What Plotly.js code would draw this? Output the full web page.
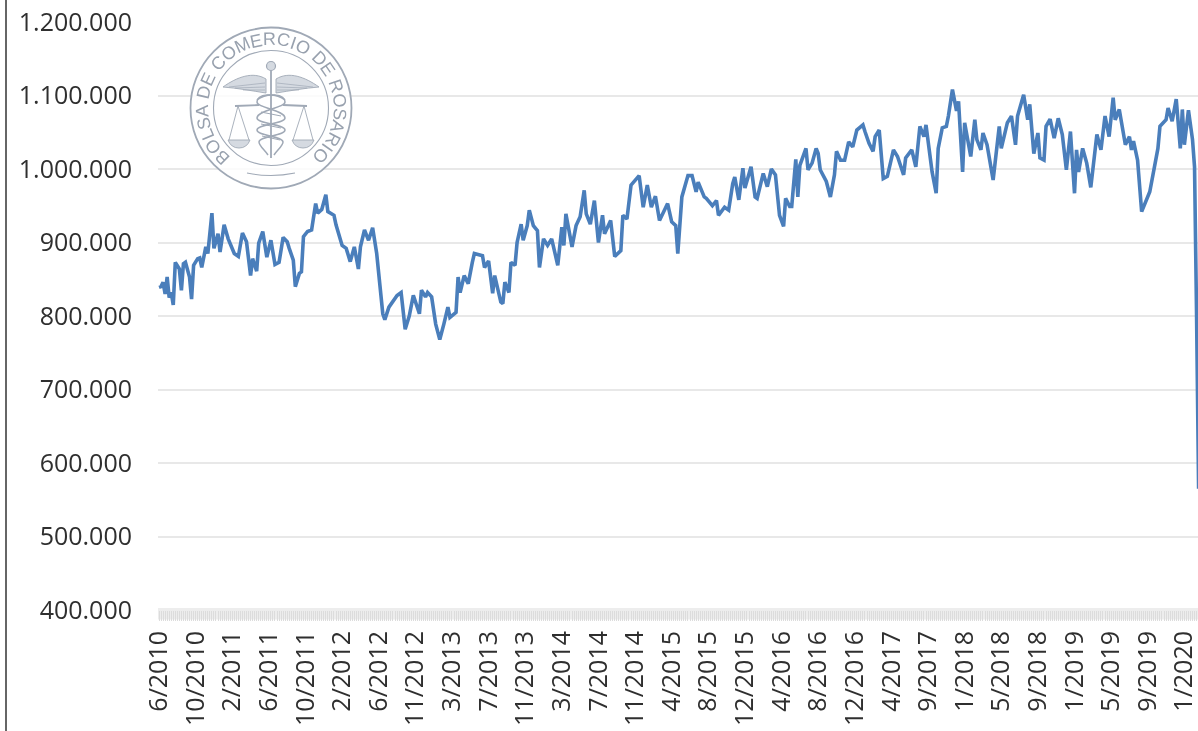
<!DOCTYPE html>
<html>
<head>
<meta charset="utf-8">
<script src="https://cdn.plot.ly/plotly-3.0.1.min.js"></script>
<style>
html,body{margin:0;padding:0;background:#fff;overflow:hidden}
#chart{width:1198px;height:731px;filter:blur(0.5px)}
</style>
</head>
<body>
<div id="chart"></div>
<script>
// Week number since June 2010
const weeks = [
0,1,2,3,4,5,6,7,8,10,11,12,13,15,16,17,19,20,21,23,24,26,27,29,30,32,34,37,39,41,43,45,46,48,49,51,53,55,57,59,61,63,64,66,67,69,70,71,73,75,77,78,80,82,83,86,87,90,92,94,96,98,99,101,103,105,107,110,111,113,117,119,121,123,125,128,129,131,132,134,136,138,140,142,
143,146,147,148,150,152,154,155,159,160,162,164,165,168,169,170,172,173,175,176,178,179,181,182,184,186,187,189,191,193,196,198,199,200,203,205,207,209,210,212,214,216,218,219,222,224,227,228,230,232,236,238,240,242,244,246,250,252,254,255,257,260,262,264,265,268,269,272,274,275,278,280,282,283,
285,287,288,291,293,294,297,299,301,303,305,307,308,310,311,313,314,315,318,319,321,323,324,325,328,330,332,333,335,337,339,341,343,346,347,349,351,352,354,356,358,361,363,366,367,370,372,374,376,377,380,382,
383,385,387,388,390,392,393,395,396,398,399,401,402,404,405,407,410,413,414,417,419,421,422,425,427,428,430,432,433,435,436,438,440,442,444,446,448,450,451,452,454,456,458,461,463,465,467,469,470,472,474,475,477,478,479,481,483,487,491,492,495,496,498,500,502,503,504,506,508,509,510,511
];
// Index level, in thousands
const values = [
839,840,846,830,853,825,832,815,873,864,835,871,873,853,823,869,878,879,866,894,885,940,892,912,887,924,905,885,881,913,901,855,878,861,899,915,880,903,870,873,907,901,892,876,840,858,860,908,915,917,953,940,945,965,942,937,924,896,892,874,894,864,894,917,903,920,885,803,795,812,828,832,782,800,828,803,835,826,832,826,789,768,789,812,
798,805,853,832,855,844,873,885,882,866,875,831,855,819,817,846,832,873,869,900,925,903,923,944,923,916,866,905,896,905,869,921,896,939,894,923,935,971,939,925,957,900,937,912,930,881,889,937,932,978,991,948,978,948,963,930,953,928,923,885,962,991,991,969,982,962,960,950,957,937,948,944,980,989,
958,1001,974,1003,962,960,994,976,1000,992,937,922,960,949,949,1013,962,1005,1028,999,1008,1028,1021,999,983,962,992,1024,1012,1012,1037,1030,1053,1060,1051,1035,1024,1044,1053,987,990,1026,1017,992,1015,1026,1003,1058,1044,1060,996,967,
1028,1056,1058,1072,1108,1079,1092,996,1063,1035,1017,1067,1040,1026,1049,1033,985,1058,1028,1063,1072,1033,1072,1101,1067,1088,1021,1049,1015,1012,1058,1068,1042,1069,1047,999,1051,967,1026,996,1028,1008,975,1047,1026,1072,1044,1097,1067,1081,1044,1033,1044,1026,1038,1012,942,969,1028,1058,1067,1083,1065,1095,1028,1081,1033,1080,1040,1003,800,565
];
const xTickLabels = ["6/2010","10/2010","2/2011","6/2011","10/2011","2/2012","6/2012","11/2012","3/2013","7/2013","11/2013","3/2014","7/2014","11/2014","4/2015","8/2015","12/2015","4/2016","8/2016","12/2016","4/2017","9/2017","1/2018","5/2018","9/2018","1/2019","5/2019","9/2019","1/2020"];
const weeksPerLabel = 18;
const yTickVals = [400,500,600,700,800,900,1000,1100,1200];
const yTickText = ["400.000","500.000","600.000","700.000","800.000","900.000","1.000.000","1.100.000","1.200.000"];
const logoText = "BOLSA DE COMERCIO DE ROSARIO";

// Page geometry of the plot area
const W = 1198, H = 731, L = 158, T = 22, B = 121;
const pw = W - L, ph = H - T - B;
const px = v => (v - L) / pw;
const py = v => 1 - (v - T) / ph;

// Seal
const cx = 271, cy = 108;
const logoColor = "#a0a9b6";
const anchored = {xref:"paper", yref:"paper", xsizemode:"pixel", ysizemode:"pixel", xanchor:px(cx), yanchor:py(cy)};
const disc = (x, y, r, w, fill) => Object.assign({}, anchored, {type:"circle", x0:x-r, x1:x+r, y0:y-r, y1:y+r,
  line:{color:logoColor, width:w}, fillcolor:fill || "rgba(0,0,0,0)", layer:"above"});
const stroke = (path, w, fill) => Object.assign({}, anchored, {type:"path", path:path,
  line:{color:logoColor, width:w}, fillcolor:fill || "rgba(0,0,0,0)", layer:"above"});
const wingFill = "#d5dae1";
const seal = [
  disc(0, 0, 80.5, 1.8, "rgba(255,255,255,0.82)"),
  disc(0, 0, 57.5, 1.1),
  stroke("M-24,-65 Q0,-70 24,-65", 1.1),
  // wings
  stroke("M-5,29 C-18,37 -34,31 -48,21 C-34,20 -18,17 -5,15 Z", 0.9, wingFill),
  stroke("M5,29 C18,37 34,31 48,21 C34,20 18,17 5,15 Z", 0.9, wingFill),
  stroke("M-42,21 L-6,25 M-36,20 L-6,21 M-28,18 L-6,18 M42,21 L6,25 M36,20 L6,21 M28,18 L6,18", 0.7),
  // staff and ball
  stroke("M0,38 L0,-50", 1.8),
  disc(0, 42, 4.5, 1.2, wingFill),
  // serpents
  stroke("M-14,8 C-4,16 14,14 14,6 C14,0 -14,-2 -14,-10 C-14,-16 14,-16 14,-22 C14,-28 -12,-28 -12,-34 C-12,-38 -6,-42 -3,-47", 1.5),
  stroke("M14,8 C4,16 -14,14 -14,6 C-14,0 14,-2 14,-10 C14,-16 -14,-16 -14,-22 C-14,-28 12,-28 12,-34 C12,-38 6,-42 3,-47", 1.5),
  stroke("M-10,-4 L10,-8 M-10,-16 L10,-20 M-9,-28 L9,-32", 1),
  // scales
  stroke("M-36,2 L-12,3 M12,3 L36,2", 1.8),
  stroke("M-33,2 L-42,-32 M-33,2 L-22,-32 M33,2 L22,-32 M33,2 L42,-32", 0.9),
  stroke("M-43,-32 L-21,-32 Q-24,-40 -32,-40 Q-40,-40 -43,-32 Z", 0.9, wingFill),
  stroke("M43,-32 L21,-32 Q24,-40 32,-40 Q40,-40 43,-32 Z", 0.9, wingFill)
];

// Seal lettering, one real letter per annotation, set clockwise round the ring
const logoFont = 18;
const ctx = document.createElement("canvas").getContext("2d");
ctx.font = logoFont + "px 'Liberation Sans'";
const adv = logoText.split("").map(c => ctx.measureText(c).width);
const total = adv.reduce((a, b) => a + b, 0);
const startDeg = -141, spanDeg = 281, textR = 69;
let run = 0;
const sealLetters = logoText.split("").map((c, i) => {
  const ang = startDeg + spanDeg * (run + adv[i] / 2) / total;
  run += adv[i];
  const rad = ang * Math.PI / 180;
  return {xref:"paper", yref:"paper", showarrow:false, text:c, textangle:ang,
    x:px(cx + textR * Math.sin(rad)), y:py(cy - textR * Math.cos(rad)),
    xanchor:"center", yanchor:"middle",
    font:{family:"Liberation Sans", size:logoFont, color:"#98a1ae"}};
});

const leftBorder = {type:"line", xref:"paper", yref:"paper", x0:px(6), x1:px(6), y0:py(H), y1:py(0),
  line:{color:"#666666", width:2}, layer:"above"};
// Pale strip that sits behind the dense tick marks
const tickStrip = {type:"rect", xref:"paper", yref:"paper", x0:0, x1:1, y0:py(619.5), y1:py(608),
  line:{width:0}, fillcolor:"#ededed", layer:"below"};

const trace = {x:weeks, y:values, type:"scatter", mode:"lines",
  line:{color:"#4a7ebb", width:3.6, shape:"linear"}, hoverinfo:"skip", cliponaxis:true};

const layout = {
  width:W, height:H, autosize:false, showlegend:false,
  paper_bgcolor:"#ffffff", plot_bgcolor:"#ffffff",
  margin:{l:L, r:0, t:T, b:B, pad:0},
  xaxis:{
    type:"linear", range:[-0.5, 510.7], showgrid:false, zeroline:false, showline:false,
    tickmode:"array",
    tickvals:xTickLabels.map((_, i) => i * weeksPerLabel),
    ticktext:xTickLabels,
    ticklabeloverflow:"allow",
    tickangle:-90, ticks:"outside", ticklen:10, tickwidth:1, tickcolor:"#dcdcdc",
    minor:{dtick:1, tick0:0, ticks:"outside", ticklen:10, tickwidth:1, tickcolor:"#dcdcdc", showgrid:false},
    tickfont:{family:"Open Sans", size:25, color:"#2f2f2f"},
    automargin:false
  },
  yaxis:{
    range:[400, 1200], showgrid:true, gridcolor:"#e8e8e8", gridwidth:2,
    zeroline:false, showline:false,
    tickmode:"array", tickvals:yTickVals, ticktext:yTickText,
    ticks:"outside", ticklen:20, tickcolor:"rgba(0,0,0,0)",
    tickfont:{family:"Open Sans", size:25, color:"#2f2f2f"},
    automargin:false
  },
  shapes:[leftBorder, tickStrip].concat(seal),
  annotations:sealLetters
};

Plotly.newPlot("chart", [trace], layout, {displayModeBar:false, staticPlot:true, responsive:false});
</script>
</body>
</html>
